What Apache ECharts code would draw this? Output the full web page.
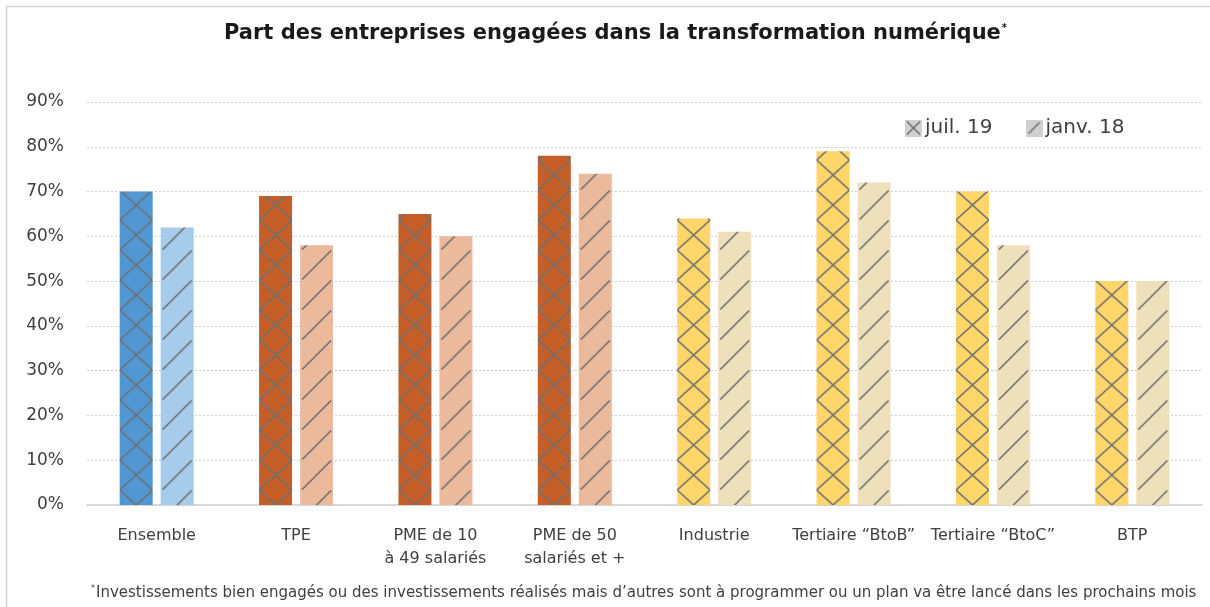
<!DOCTYPE html>
<html>
<head>
<meta charset="utf-8">
<script src="https://cdn.jsdelivr.net/npm/echarts@6.0.0/dist/echarts.min.js"></script>
<style>
html, body { margin: 0; padding: 0; background: #fff; }
#chart { width: 1210px; height: 607px; }
</style>
</head>
<body>
<div id="chart"></div>
<script>
var categories = ['Ensemble', 'TPE', 'PME de 10\nà 49 salariés', 'PME de 50\nsalariés et +', 'Industrie', 'Tertiaire \u201cBtoB\u201d', 'Tertiaire \u201cBtoC\u201d', 'BTP'];
var juil19 = [70, 69, 65, 78, 64, 79, 70, 50];
var janv18 = [62, 58, 60, 74, 61, 72, 58, 50];
var seriesNames = ['juil. 19', 'janv. 18'];
var yTicks = [0, 90, 10];

var darkColors = ['#5197d4', '#c55f27', '#c55f27', '#c55f27', '#ffd66a', '#ffd66a', '#ffd66a', '#ffd66a'];
var lightColors = ['#a6cbeb', '#ebb99b', '#ebb99b', '#ebb99b', '#eee0bb', '#eee0bb', '#eee0bb', '#eee0bb'];

var BAR_W = 33, GAP = 8, TILE_H = 30;
var HATCH = '#717171';
var FONT = 'DejaVu Sans';
var TXT = '#404040';

// hachures : croisillons pour juil. 19, traits obliques pour janv. 18
function crossTile(bg, w, h) {
    var c = document.createElement('canvas');
    c.width = w; c.height = h;
    var ctx = c.getContext('2d');
    ctx.fillStyle = bg;
    ctx.fillRect(0, 0, w, h);
    ctx.strokeStyle = HATCH;
    ctx.lineWidth = 1.6;
    ctx.beginPath();
    ctx.moveTo(0, 0); ctx.lineTo(w, h);
    ctx.moveTo(w, 0); ctx.lineTo(0, h);
    ctx.stroke();
    return c;
}

function slashTile(bg, w, h, c0) {
    var c = document.createElement('canvas');
    c.width = w; c.height = h;
    var ctx = c.getContext('2d');
    ctx.fillStyle = bg;
    ctx.fillRect(0, 0, w, h);
    ctx.strokeStyle = HATCH;
    ctx.lineWidth = 1.6;
    ctx.beginPath();
    for (var k = -2; k <= 3; k++) {
        ctx.moveTo(2, c0 + k * h - 2);
        ctx.lineTo(w - 2, c0 + k * h - w + 2);
    }
    ctx.stroke();
    return c;
}

function legendIcon(kind) {
    var c = document.createElement('canvas');
    c.width = 17; c.height = 17;
    var ctx = c.getContext('2d');
    ctx.fillStyle = '#d0d0d0';
    ctx.fillRect(0, 0, 17, 17);
    ctx.strokeStyle = HATCH;
    ctx.lineWidth = 1.6;
    ctx.beginPath();
    if (kind === 'x') {
        ctx.moveTo(2, 2); ctx.lineTo(15, 15);
        ctx.moveTo(15, 2); ctx.lineTo(2, 15);
    } else {
        ctx.moveTo(3, 14); ctx.lineTo(14, 3);
    }
    ctx.stroke();
    return 'image://' + c.toDataURL();
}

var myChart = echarts.init(document.getElementById('chart'), null, { renderer: 'canvas' });

var option = {
    animation: false,
    backgroundColor: '#fff',
    graphic: [{
        type: 'rect',
        shape: { x: 6.5, y: 6.5, width: 1400, height: 800 },
        style: { fill: 'none', stroke: '#d4d4d4', lineWidth: 1.5 },
        silent: true
    }],
    title: [{
        text: '{t|Part des entreprises engagées dans la transformation numérique}{s|*}',
        left: 219,
        top: 18,
        textStyle: {
            rich: {
                t: { fontFamily: FONT, fontWeight: 'bold', fontSize: 21, color: '#1a1a1a' },
                s: { fontFamily: FONT, fontWeight: 'bold', fontSize: 10, color: '#1a1a1a', verticalAlign: 'top', padding: [0, 0, 10, 1] }
            }
        }
    }, {
        text: '{s|*}{t|Investissements bien engagés ou des investissements réalisés mais d\u2019autres sont à programmer ou un plan va être lancé dans les prochains mois}',
        left: 86,
        top: 580,
        textStyle: {
            fontWeight: 'normal',
            rich: {
                t: { fontFamily: FONT, fontWeight: 'normal', fontSize: 15, color: TXT },
                s: { fontFamily: FONT, fontWeight: 'normal', fontSize: 8, color: TXT, verticalAlign: 'top', padding: [0, 1, 8, 0] }
            }
        }
    }],
    legend: {
        left: 905,
        top: 118,
        padding: 0,
        itemWidth: 17,
        itemHeight: 17,
        itemGap: 33,
        textStyle: { fontFamily: FONT, fontSize: 20, color: TXT, padding: [0, 0, 0, -2] },
        data: [
            { name: seriesNames[0], icon: legendIcon('x') },
            { name: seriesNames[1], icon: legendIcon('/') }
        ]
    },
    grid: { left: 87, right: 8, top: 102, bottom: 102, containLabel: false },
    xAxis: {
        type: 'category',
        data: categories,
        axisLine: { lineStyle: { color: '#d0d0d0', width: 1.5 } },
        axisTick: { show: false },
        axisLabel: { interval: 0, margin: 19, fontFamily: FONT, fontSize: 16, lineHeight: 23, color: TXT }
    },
    yAxis: {
        type: 'value',
        min: yTicks[0],
        max: yTicks[1],
        interval: yTicks[2],
        axisLine: { show: false },
        axisTick: { show: false },
        axisLabel: { formatter: '{value}%', margin: 23, fontFamily: FONT, fontSize: 17, color: TXT },
        splitLine: { lineStyle: { color: '#cfcfcf', type: [2, 2], width: 1 } }
    },
    series: [{
        name: seriesNames[0],
        type: 'bar',
        barWidth: BAR_W,
        barGap: (GAP / BAR_W * 100).toFixed(2) + '%',
        data: juil19.map(function (v, i) { return { value: v, itemStyle: { color: darkColors[i] } }; })
    }, {
        name: seriesNames[1],
        type: 'bar',
        barWidth: BAR_W,
        data: janv18.map(function (v, i) { return { value: v, itemStyle: { color: lightColors[i] } }; })
    }]
};
myChart.setOption(option);

var y0 = myChart.convertToPixel({ yAxisIndex: 0 }, 0);
var darkData = [], lightData = [];
for (var i = 0; i < categories.length; i++) {
    var cx = myChart.convertToPixel({ xAxisIndex: 0 }, i);
    var leftDark = cx - (BAR_W * 2 + GAP) / 2;
    var leftLight = leftDark + BAR_W + GAP;
    darkData.push({
        value: juil19[i],
        itemStyle: { color: { image: crossTile(darkColors[i], BAR_W, TILE_H), repeat: 'repeat', x: leftDark, y: y0 - TILE_H / 2 } }
    });
    lightData.push({
        value: janv18[i],
        itemStyle: { color: { image: slashTile(lightColors[i], BAR_W, TILE_H, 1.5), repeat: 'repeat', x: leftLight, y: y0 - TILE_H / 2 } }
    });
}
myChart.setOption({ series: [{ data: darkData }, { data: lightData }] });
</script>
</body>
</html>
